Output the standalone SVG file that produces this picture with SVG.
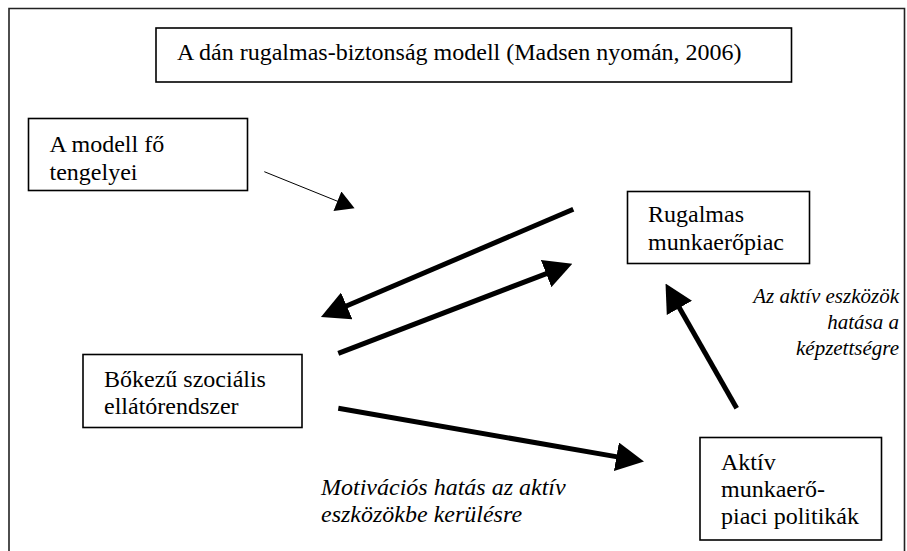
<svg xmlns="http://www.w3.org/2000/svg" width="907" height="551" viewBox="0 0 907 551" font-family="'Liberation Serif','Times New Roman',serif">
<style>
text{font-family:"Liberation Serif","Times New Roman",serif;font-size:24px;fill:#000}
.it{font-style:italic}
.sm{font-size:21px}
.box{fill:#fff;stroke:#000;stroke-width:1.6}
.frame{fill:none;stroke:#222;stroke-width:1.6}
.thick{fill:none;stroke:#000;stroke-width:5}
.thin{fill:none;stroke:#000;stroke-width:1}
</style>
<defs>
<marker id="ah" markerUnits="userSpaceOnUse" markerWidth="28" markerHeight="29" viewBox="0 0 28 29" refX="1" refY="14.5" orient="auto">
<path d="M0,0 L28,14.5 L0,29 z" fill="#000"/>
</marker>
<marker id="ahs" markerUnits="userSpaceOnUse" markerWidth="19" markerHeight="21" viewBox="0 0 18.5 21" refX="0.5" refY="10.5" orient="auto">
<path d="M0,0 L18.5,10.5 L0,21 z" fill="#000"/>
</marker>
<clipPath id="clipModell"><rect x="28" y="118" width="220" height="72.5"/></clipPath>
</defs>
<path class="frame" d="M9,560 L9,8.5 L904.5,8.5 L904.5,560"/>
<g id="title">
<rect class="box" x="156" y="28" width="635.5" height="54"/>
<text x="177" y="60">A dán rugalmas-biztonság modell (Madsen nyomán, 2006)</text>
</g>
<g id="modell">
<rect class="box" x="28.5" y="118.5" width="219" height="72"/>
<g clip-path="url(#clipModell)">
<text x="49.5" y="152">A modell fő</text>
<text x="49.5" y="180">tengelyei</text>
</g>
</g>
<g id="rugalmas">
<rect class="box" x="627.5" y="191.5" width="182" height="72"/>
<text x="648" y="222">Rugalmas</text>
<text x="648" y="250">munkaerőpiac</text>
</g>
<g id="bokezu">
<rect class="box" x="83" y="354.5" width="219" height="73"/>
<text x="104" y="387">Bőkezű szociális</text>
<text x="104" y="414">ellátórendszer</text>
</g>
<g id="aktiv">
<rect class="box" x="700" y="437.5" width="181.5" height="102.5"/>
<text x="721" y="470">Aktív</text>
<text x="721" y="497">munkaerő-</text>
<text x="721" y="524">piaci politikák</text>
</g>
<g id="connectors">
<path class="thin" d="M264.3,171.7 L337.9,201.4" marker-end="url(#ahs)"/>
<path class="thick" d="M573.3,209.3 L345.8,306.3" marker-end="url(#ah)"/>
<path class="thick" d="M338.3,353.3 L547.1,273.3" marker-end="url(#ah)"/>
<path class="thick" d="M338.3,408.3 L617.4,456.9" marker-end="url(#ah)"/>
<path class="thick" d="M736.7,408.3 L678.9,307" marker-end="url(#ah)"/>
</g>
<g id="labels">
<text class="it" x="321" y="495">Motivációs hatás az aktív</text>
<text class="it" x="321" y="522">eszközökbe kerülésre</text>
<text class="it sm" x="899" y="303" text-anchor="end">Az aktív eszközök</text>
<text class="it sm" x="899" y="329" text-anchor="end">hatása a</text>
<text class="it sm" x="899" y="355" text-anchor="end">képzettségre</text>
</g>
</svg>
